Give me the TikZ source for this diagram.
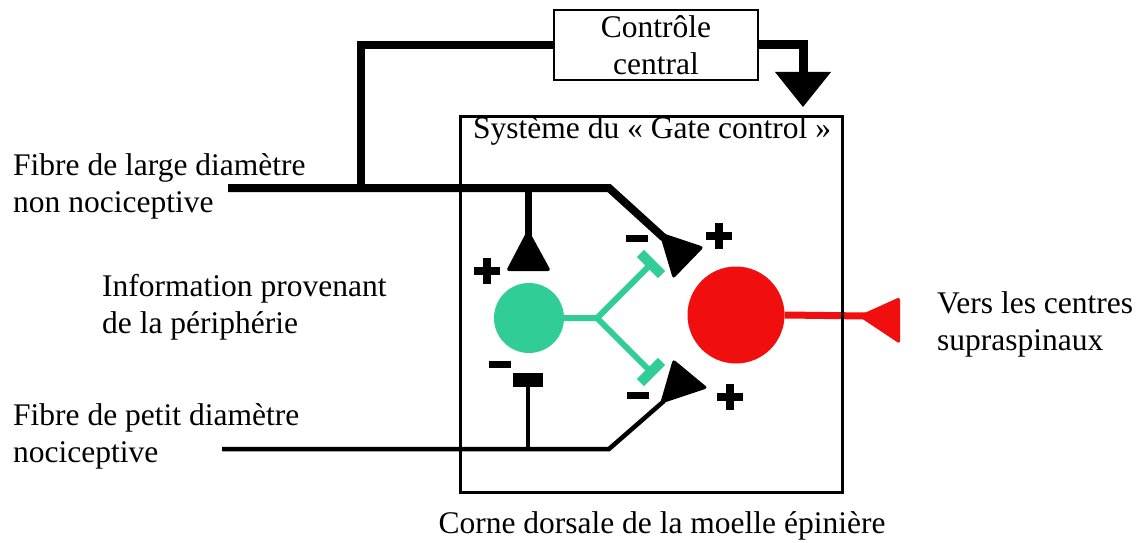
\documentclass[tikz,border=0pt]{standalone}
\usepackage{fontspec}
\setmainfont{Liberation Serif}
\usepackage{tikz}
\usetikzlibrary{positioning}
\usepackage{xcolor}
\definecolor{inhibgreen}{HTML}{30CE96}
\definecolor{projred}{HTML}{F00E0E}
\tikzset{
  % plain text label
  lbl/.style={font=\fontsize{31.5}{37}\selectfont, inner sep=0pt, align=left},
  % cell body
  soma/.style={circle, fill=#1, inner sep=0pt},
  % fibre = black axon
  fibre/.style={line width=#1, line join=miter},
  % synaptic ending (triangle)
  bouton/.style={fill=#1, rounded corners=3pt},
  % inhibitory axon of the interneuron
  inhib/.style={inhibgreen, line width=6pt},
  tbar/.style={inhibgreen, line width=10pt},
  % + / - signs
  sign/.style={line width=8pt},
}
\newcommand{\possign}[2]{%
  \draw[sign, shift={(#1,#2)}] (-13,0) -- (13,0) (0,-13) -- (0,13);}
\newcommand{\negsign}[2]{%
  \draw[sign, line width=7pt, shift={(#1,#2)}] (-11,0) -- (11,0);}

\begin{document}
\begin{tikzpicture}[x=1pt, y=-1pt]
  \useasboundingbox (0,0) rectangle (1144,543);

  % projection neuron (red)
  \node[soma=projred, minimum size=97pt] (proj) at (736,315) {};
  \coordinate (axend) at (866,316);
  \draw[projred, line width=7pt] (proj.east) -- (axend);
  \fill[bouton=projred] (858,316) -- (900,297) -- (900,344) -- cycle;

  % gate control box
  \node[draw, line width=2.5pt, minimum width=382pt, minimum height=376pt,
        anchor=north west, inner sep=0pt] (gate) at (459,115) {};
  \node[lbl, anchor=base west] (gatetitle) at (473,139)
    {Système du « Gate control »};
  \node[lbl, anchor=base] (corne) at (662,533)
    {Corne dorsale de la moelle épinière};

  % central control
  \node[lbl, draw, line width=2pt, minimum width=204pt, minimum height=70pt,
        align=center] (ctrl) at (656,45) {Contrôle\\central};
  \coordinate (ctrltap) at (361,188);
  \draw[fibre=8pt] (ctrl.west) -- (ctrl.west -| ctrltap) -- (ctrltap);
  \coordinate (descend) at (803,75);
  \draw[fibre=9pt] (ctrl.east) -- (ctrl.east -| descend) -- (descend);
  \fill (775,72) -- (831,72) -- (803,107) -- cycle;

  % large fibre
  \coordinate (lgstart) at (228,188);
  \coordinate (lgkink)  at (609,188);
  \coordinate (lgend)   at (664,238);
  \draw[fibre=8pt] (lgstart) -- (lgkink) -- (lgend);
  \fill[bouton=black] (659,232) -- (704,247) -- (673,279) -- cycle;
  \coordinate (lgbranch) at (528,188);
  \draw[fibre=7pt] (lgbranch) -- ++(0,52);
  \fill[bouton=black] (528,229) -- (551,271) -- (506,271) -- cycle;

  % small fibre
  \coordinate (smstart) at (222,449);
  \coordinate (smkink)  at (609,449);
  \coordinate (smend)   at (664,401);
  \draw[fibre=4.5pt] (smstart) -- (smkink) -- (smend);
  \fill[bouton=black] (660,404) -- (673,359) -- (708,388) -- cycle;
  \coordinate (smbranch) at (528,449);
  \draw[fibre=4pt] (smbranch) -- ++(0,-64);
  \fill (513,373) rectangle (543,387);

  % interneuron (green)
  \node[soma=inhibgreen, minimum size=70pt] (inter) at (529,318) {};
  \coordinate (fork)   at (597,318);
  \coordinate (inhtop) at (651,264);
  \coordinate (inhbot) at (651,372);
  \draw[inhib] (inter.east) -- (fork) -- (inhtop);
  \draw[inhib] (fork) -- (inhbot);
  \draw[tbar] (640.4,253.4) -- (661.6,274.6);
  \draw[tbar] (640.4,382.6) -- (661.6,361.4);

  % signs
  \possign{487}{271}
  \possign{719}{236}
  \possign{730}{397}
  \negsign{637}{238}
  \negsign{500}{364}
  \negsign{638}{395}

  % side labels (base = last line)
  \node[lbl, anchor=base west] (largefib) at (13,212)
    {Fibre de large diamètre\\non nociceptive};
  \node[lbl, anchor=base west] (periph) at (102,333)
    {Information provenant\\de la périphérie};
  \node[lbl, anchor=base west] (smallfib) at (13,462)
    {Fibre de petit diamètre\\nociceptive};
  \node[lbl, anchor=base west] (supra) at (937,350)
    {Vers les centres\\supraspinaux};
\end{tikzpicture}
\end{document}
